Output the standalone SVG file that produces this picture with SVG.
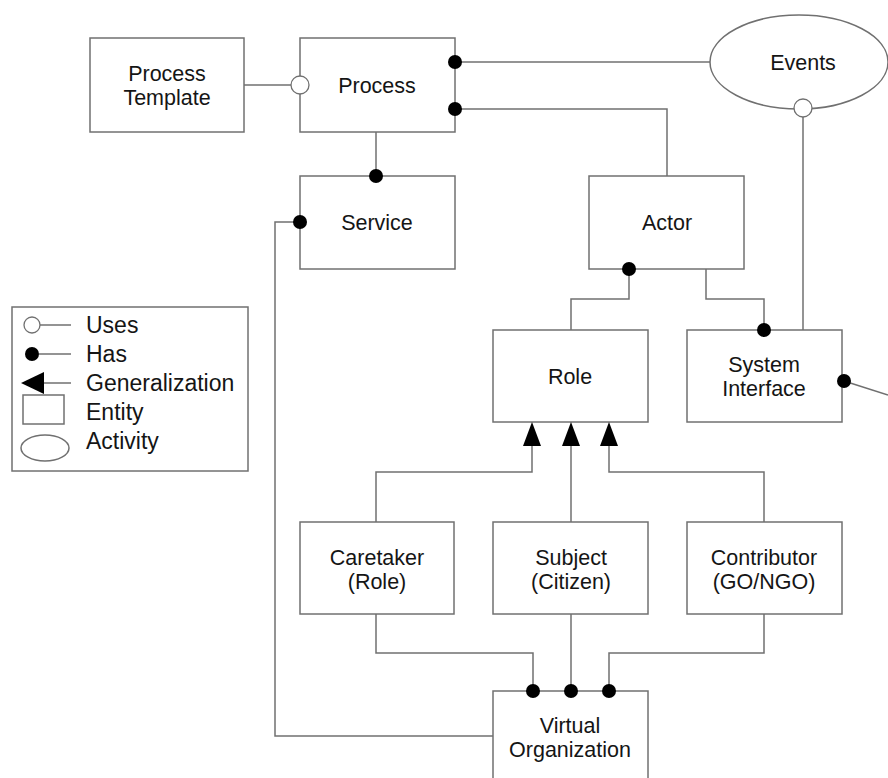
<svg xmlns="http://www.w3.org/2000/svg" width="888" height="778" viewBox="0 0 888 778">
  <style>
    .box { fill: #ffffff; stroke: #707070; stroke-width: 1.5; }
    .line { fill: none; stroke: #707070; stroke-width: 1.5; }
    .has { fill: #000000; }
    .uses { fill: #ffffff; stroke: #707070; stroke-width: 1.3; }
    .gen { fill: #000000; }
    .lbl { font-family: "Liberation Sans", Arial, sans-serif; font-size: 21.5px; fill: #151515; text-anchor: middle; }
    .leg { font-family: "Liberation Sans", Arial, sans-serif; font-size: 23px; fill: #151515; }
  </style>
  <rect width="888" height="778" fill="#ffffff"/>

  <!-- connectors -->
  <g id="connectors">
    <!-- Process Template uses Process -->
    <line class="line" x1="244" y1="85" x2="291" y2="85"/>
    <!-- Process has Events -->
    <line class="line" x1="455" y1="62" x2="710" y2="62"/>
    <!-- Process has Actor -->
    <polyline class="line" points="455,109 667,109 667,176"/>
    <!-- Process has Service -->
    <line class="line" x1="376" y1="132" x2="376" y2="176"/>
    <!-- Service has Virtual Organization -->
    <polyline class="line" points="300,222 275,222 275,736 493,736"/>
    <!-- Actor has Role -->
    <polyline class="line" points="629,269 629,299 571,299 571,330"/>
    <!-- Actor to System Interface -->
    <polyline class="line" points="706,269 706,299 764,299 764,330"/>
    <!-- Events used by System Interface -->
    <line class="line" x1="803" y1="117" x2="803" y2="330"/>
    <!-- System Interface outgoing -->
    <line class="line" x1="844" y1="381" x2="888" y2="395"/>
    <!-- generalizations to Role -->
    <polyline class="line" points="376,522 376,472 532,472 532,445"/>
    <line class="line" x1="571" y1="522" x2="571" y2="445"/>
    <polyline class="line" points="764,522 764,472 609,472 609,445"/>
    <!-- Virtual Organization has members -->
    <polyline class="line" points="376,614 376,653 533,653 533,691"/>
    <line class="line" x1="571" y1="614" x2="571" y2="691"/>
    <polyline class="line" points="764,614 764,653 609,653 609,691"/>
  </g>

  <!-- nodes -->
  <g id="process-template">
    <rect class="box" x="90" y="38" width="154" height="94"/>
    <text class="lbl" x="167" y="81">Process</text>
    <text class="lbl" x="167" y="105">Template</text>
  </g>
  <g id="process">
    <rect class="box" x="300" y="38" width="155" height="94"/>
    <text class="lbl" x="377" y="93">Process</text>
  </g>
  <g id="events">
    <ellipse class="box" cx="799" cy="62" rx="89" ry="47"/>
    <text class="lbl" x="803" y="70">Events</text>
  </g>
  <g id="service">
    <rect class="box" x="300" y="176" width="155" height="93"/>
    <text class="lbl" x="377" y="230">Service</text>
  </g>
  <g id="actor">
    <rect class="box" x="589" y="176" width="155" height="93"/>
    <text class="lbl" x="667" y="230">Actor</text>
  </g>
  <g id="role">
    <rect class="box" x="493" y="330" width="155" height="92"/>
    <text class="lbl" x="570" y="384">Role</text>
  </g>
  <g id="system-interface">
    <rect class="box" x="687" y="330" width="155" height="92"/>
    <text class="lbl" x="764" y="372">System</text>
    <text class="lbl" x="764" y="396">Interface</text>
  </g>
  <g id="caretaker">
    <rect class="box" x="300" y="522" width="154" height="92"/>
    <text class="lbl" x="377" y="565">Caretaker</text>
    <text class="lbl" x="377" y="589">(Role)</text>
  </g>
  <g id="subject">
    <rect class="box" x="493" y="522" width="155" height="92"/>
    <text class="lbl" x="571" y="565">Subject</text>
    <text class="lbl" x="571" y="589">(Citizen)</text>
  </g>
  <g id="contributor">
    <rect class="box" x="687" y="522" width="155" height="92"/>
    <text class="lbl" x="764" y="565">Contributor</text>
    <text class="lbl" x="764" y="589">(GO/NGO)</text>
  </g>
  <g id="virtual-organization">
    <rect class="box" x="493" y="691" width="155" height="100"/>
    <text class="lbl" x="570" y="733">Virtual</text>
    <text class="lbl" x="570" y="757">Organization</text>
  </g>

  <!-- connector end symbols -->
  <g id="ends">
    <circle class="uses" cx="300" cy="85" r="9"/>
    <circle class="uses" cx="803" cy="108" r="9"/>
    <circle class="has" cx="455" cy="62" r="7"/>
    <circle class="has" cx="455" cy="109" r="7"/>
    <circle class="has" cx="376" cy="176" r="7"/>
    <circle class="has" cx="300" cy="222" r="7"/>
    <circle class="has" cx="629" cy="269" r="7"/>
    <circle class="has" cx="764" cy="330" r="7"/>
    <circle class="has" cx="844" cy="381" r="7"/>
    <circle class="has" cx="533" cy="691" r="7"/>
    <circle class="has" cx="571" cy="691" r="7"/>
    <circle class="has" cx="609" cy="691" r="7"/>
    <polygon class="gen" points="532,422 523,446 541,446"/>
    <polygon class="gen" points="571,422 562,446 580,446"/>
    <polygon class="gen" points="609,422 600,446 618,446"/>
  </g>

  <!-- legend -->
  <g id="legend">
    <rect class="box" x="12" y="307" width="236" height="164"/>
    <circle class="uses" cx="32" cy="325" r="8"/>
    <line class="line" x1="40" y1="325" x2="71" y2="325"/>
    <text class="leg" x="86" y="333">Uses</text>
    <circle class="has" cx="32" cy="354" r="7"/>
    <line class="line" x1="39" y1="354" x2="71" y2="354"/>
    <text class="leg" x="86" y="362">Has</text>
    <polygon class="gen" points="21,383 44,372 44,394"/>
    <line class="line" x1="44" y1="383" x2="71" y2="383"/>
    <text class="leg" x="86" y="391">Generalization</text>
    <rect class="box" x="23" y="395" width="41" height="29"/>
    <text class="leg" x="86" y="420">Entity</text>
    <ellipse class="box" cx="45" cy="448" rx="24" ry="13"/>
    <text class="leg" x="86" y="449">Activity</text>
  </g>
</svg>
